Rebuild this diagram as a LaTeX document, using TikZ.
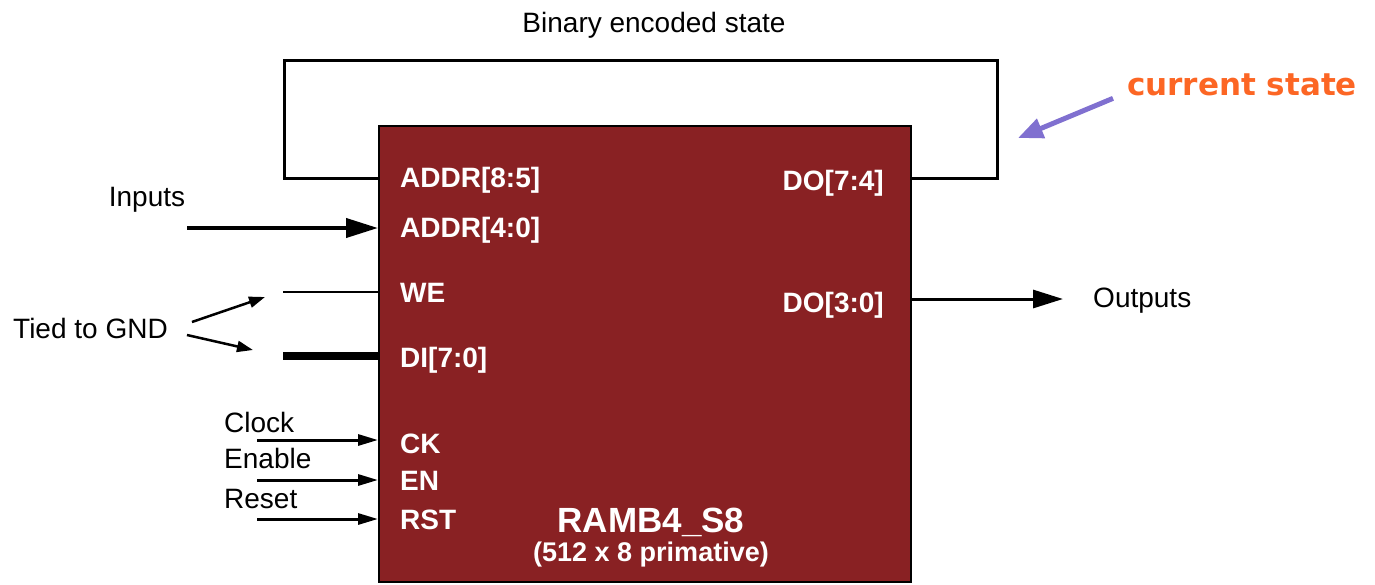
\documentclass[tikz,border=0pt]{standalone}
\usepackage{fontspec}
\setmainfont{Liberation Sans}
\newfontfamily\statefont{DejaVu Sans}
\usetikzlibrary{arrows.meta,positioning}
\definecolor{ramred}{RGB}{137,33,35}
\definecolor{curorange}{RGB}{252,102,36}
\definecolor{curpurple}{RGB}{128,112,208}

\begin{document}
\begin{tikzpicture}[x=1pt, y=-1pt, inner sep=0pt,
  every node/.style={font=\fontsize{28}{30}\selectfont},
  pinlabel/.style={font=\fontsize{28}{30}\selectfont\bfseries, text=white},
  wire/.style={line width=3pt},
  sigarrow/.style={line width=3pt, -{Triangle[length=20pt,width=11pt]}},
  tiearrow/.style={line width=2.5pt, -{Triangle[length=16pt,width=11pt]}}]
  \useasboundingbox (0,0) rectangle (1375,584);

  % the block ram
  \node[draw, line width=1.5pt, fill=ramred, minimum width=532pt, minimum height=456pt,
        anchor=north west] (ram) at (378,125) {};
  \foreach \name/\txt/\y in {addrhi/{ADDR[8:5]}/187, addrlo/{ADDR[4:0]}/237, we/WE/302,
                             di/{DI[7:0]}/367, ck/CK/453, en/EN/490, rst/RST/529}
    \node[pinlabel, anchor=base west] (\name) at (400,\y) {\txt};
  \node[pinlabel, anchor=base east] (dohi) at (884,190) {DO[7:4]};
  \node[pinlabel, anchor=base east] (dolo) at (884,312) {DO[3:0]};
  \node[pinlabel, font=\fontsize{35}{38}\selectfont\bfseries, anchor=base] (ramname) at (651,532) {RAMB4\_S8};
  \node[pinlabel, font=\fontsize{27}{30}\selectfont\bfseries, anchor=base] (ramsize) at (651,561) {(512 x 8 primative)};

  % state feedback
  \coordinate (fbout) at (910,178);
  \coordinate (fbin) at (378,178);
  \draw[wire] (fbout) -- ++(87,0) |- (284,60) |- (fbin);
  \node[anchor=base] (fblabel) at (654,32) {Binary encoded state};

  % inputs
  \node[anchor=base] (inputs) at (147,206) {Inputs};
  \coordinate (insrc) at (187,228);
  \draw[line width=4pt, -{Triangle[length=32pt,width=19pt]}] (insrc) -- (ram.west |- insrc);

  % tied to ground
  \coordinate (wesrc) at (283,292);
  \coordinate (disrc) at (283,356);
  \draw[line width=2.5pt] (wesrc) -- (ram.west |- wesrc);
  \draw[line width=8pt] (disrc) -- (ram.west |- disrc);
  \node[anchor=base west] (gnd) at (13,338) {Tied to GND};
  \coordinate (weend) at (265,297);
  \coordinate (diend) at (253,350);
  \draw[tiearrow] ([xshift=24pt,yshift=6pt]gnd.east) -- (weend);
  \draw[tiearrow] ([xshift=19pt,yshift=-7pt]gnd.east) -- (diend);

  % clock, enable, reset
  \foreach \name/\txt/\y/\b in {clk/Clock/440/432, ena/Enable/480/468, rstin/Reset/519/508} {
    \node[anchor=base west] (\name) at (224,\b) {\txt};
    \coordinate (\name-src) at (257,\y);
    \draw[sigarrow] (\name-src) -- (ram.west |- \name-src);
  }

  % outputs
  \coordinate (outtip) at (1063,299);
  \draw[line width=3pt, -{Triangle[length=30pt,width=18pt]}] (ram.east |- outtip) -- (outtip);
  \node[anchor=base west] (outputs) at (1093,307) {Outputs};

  % current state note
  \node[anchor=base west, font=\statefont\bfseries\fontsize{31}{34}\selectfont, text=curorange]
    (curstate) at (1127,95) {current state};
  \coordinate (curtip) at (1018,138);
  \draw[curpurple, line width=5pt, -{Triangle[length=25pt,width=20pt]}]
    ([xshift=-14pt,yshift=-14pt]curstate.west) -- (curtip);
\end{tikzpicture}
\end{document}
